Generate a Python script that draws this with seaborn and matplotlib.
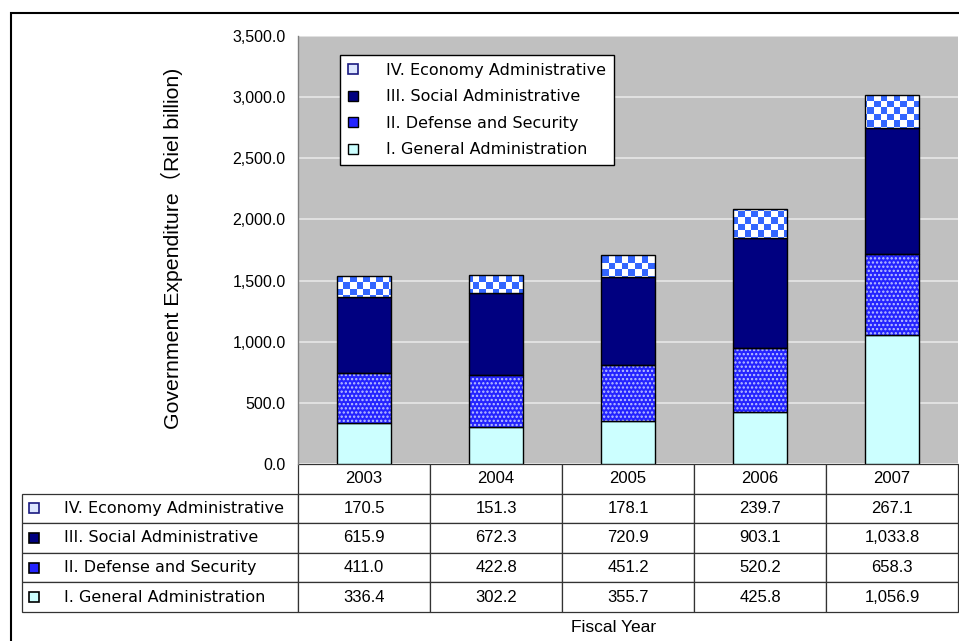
import numpy as np
import pandas as pd
import matplotlib
matplotlib.use("Agg")
import matplotlib.pyplot as plt
import seaborn as sns
from matplotlib.patches import Rectangle, Patch
from matplotlib.colors import ListedColormap
from matplotlib.ticker import FuncFormatter

# Government expenditure by function, Riel billion
years = ["2003", "2004", "2005", "2006", "2007"]
general = [336.4, 302.2, 355.7, 425.8, 1056.9]
defense = [411.0, 422.8, 451.2, 520.2, 658.3]
social = [615.9, 672.3, 720.9, 903.1, 1033.8]
economy = [170.5, 151.3, 178.1, 239.7, 267.1]

series_labels = [
    "I. General Administration",
    "II. Defense and Security",
    "III. Social Administrative",
    "IV. Economy Administrative",
]
y_ticks = [0, 500, 1000, 1500, 2000, 2500, 3000, 3500]

C_GENERAL = "#CCFFFF"
C_DEFENSE = "#2424FF"
C_SOCIAL = "#000080"
C_ECON = "#3366FF"
C_ECON_KEY = "#DCE6FF"

LABEL_FONT = ["DejaVu Sans"]

sns.set_theme(style="white")
plt.rcParams["font.family"] = ["Liberation Sans", "Noto Sans CJK JP", "DejaVu Sans"]
plt.rcParams["text.color"] = "black"
plt.rcParams["axes.labelcolor"] = "black"
plt.rcParams["hatch.linewidth"] = 1.1

W, H = 959, 641
fig = plt.figure(figsize=(W / 100, H / 100), dpi=100)
fig.patch.set_facecolor("white")

ax_l, ax_r, ax_t, ax_b = 298, 958, 36, 464
ax_w = ax_r - ax_l
ax = fig.add_axes([ax_l / W, 1 - ax_b / H, ax_w / W, (ax_b - ax_t) / H])
ax.set_facecolor("#C0C0C0")

df = pd.DataFrame({"year": years, "general": general, "defense": defense,
                   "social": social, "economy": economy})

bar_w = 0.41
bottom = np.zeros(len(years))

# I. General Administration
sns.barplot(data=df, x="year", y="general", order=years, bottom=bottom,
            width=bar_w, color=C_GENERAL, saturation=1, errorbar=None,
            edgecolor="black", linewidth=1, ax=ax, zorder=2)
bottom = bottom + df["general"].to_numpy()

# II. Defense and Security: dotted fill
sns.barplot(data=df, x="year", y="defense", order=years, bottom=bottom,
            width=bar_w, color=C_DEFENSE, saturation=1, errorbar=None,
            edgecolor="#BCC4FF", linewidth=0, hatch="....", ax=ax, zorder=2)
for p in ax.containers[-1]:
    ax.add_patch(Rectangle(p.get_xy(), p.get_width(), p.get_height(),
                           fill=False, edgecolor="black", lw=1, zorder=3))
bottom = bottom + df["defense"].to_numpy()

# III. Social Administrative
sns.barplot(data=df, x="year", y="social", order=years, bottom=bottom,
            width=bar_w, color=C_SOCIAL, saturation=1, errorbar=None,
            edgecolor="black", linewidth=1, ax=ax, zorder=2)
bottom = bottom + df["social"].to_numpy()

# IV. Economy Administrative: checkerboard fill
sns.barplot(data=df, x="year", y="economy", order=years, bottom=bottom,
            width=bar_w, color=C_ECON, saturation=1, errorbar=None,
            edgecolor="black", linewidth=0, ax=ax, zorder=2)
econ_bars = list(ax.containers[-1])

nx, ny = 102, 66
checker = (np.add.outer(np.arange(ny), np.arange(nx)) % 2).astype(float)
cmap = ListedColormap(["white", C_ECON])
for p in econ_bars:
    im = ax.imshow(checker, cmap=cmap, interpolation="nearest",
                   extent=(0, 1, 0, 1), transform=ax.transAxes,
                   aspect="auto", zorder=2.5)
    im.set_clip_path(p)
    ax.add_patch(Rectangle(p.get_xy(), p.get_width(), p.get_height(),
                           fill=False, edgecolor="black", lw=1, zorder=3))

ax.set_xlim(-0.5, len(years) - 0.5)
ax.set_ylim(0, 3500)
ax.set_aspect("auto")

# axes styling
ax.set_yticks(y_ticks)
ax.yaxis.set_major_formatter(FuncFormatter(lambda v, _: f"{v:,.1f}"))
ax.tick_params(axis="y", length=0, pad=9, labelsize=11.5, colors="black")
ax.tick_params(axis="x", length=0, labelbottom=False)
ax.set_xlabel("")
ax.set_axisbelow(True)
ax.yaxis.grid(True, color="#E4E4E4", lw=1.3)
ax.xaxis.grid(False)
for s in ["top", "right", "bottom"]:
    ax.spines[s].set_visible(False)
ax.spines["left"].set_color("#808080")
ax.spines["left"].set_linewidth(1)

ax.set_ylabel("Government Expenditure（Riel billion)", fontsize=15.3, color="black")
ax.yaxis.set_label_coords((183 - ax_l) / ax_w, 0.505)

# legend
handles = [
    Patch(facecolor=C_ECON_KEY, edgecolor="#1A1A80", lw=1.2),
    Patch(facecolor=C_SOCIAL, edgecolor="black", lw=1),
    Patch(facecolor=C_DEFENSE, edgecolor="black", lw=1),
    Patch(facecolor=C_GENERAL, edgecolor="black", lw=1),
]
leg = ax.legend(handles, series_labels[::-1], loc="upper left",
                bbox_to_anchor=((340 - ax_l) / ax_w, (ax_b - 55) / (ax_b - ax_t)),
                borderaxespad=0, frameon=True, fancybox=False, framealpha=1,
                edgecolor="black", facecolor="white", labelcolor="black",
                prop={"family": LABEL_FONT, "size": 11.5},
                handlelength=0.6, handleheight=0.6, handletextpad=1.75,
                labelspacing=0.72, borderpad=0.5)
leg.get_frame().set_linewidth(1.0)
leg.set_zorder(5)

# data table under the bars; widths in axes units so the year columns line up with the bars
rows = [economy, social, defense, general]
cell_text = [[f"{v:,.1f}" for v in r] for r in rows]
tbl_bottom = 612
label_w = 276
tbl = ax.table(cellText=cell_text, rowLabels=series_labels[::-1], colLabels=years,
               colWidths=[1 / len(years)] * len(years),
               cellLoc="center", rowLoc="left", colLoc="center",
               bbox=[0, (ax_b - tbl_bottom) / (ax_b - ax_t),
                     1, (tbl_bottom - ax_b) / (ax_b - ax_t)])
tbl._autoColumns = []
tbl.auto_set_font_size(False)
tbl.set_fontsize(12)
for (r, c), cell in tbl.get_celld().items():
    cell.set_edgecolor("#333333")
    cell.set_linewidth(0.9)
    cell.set_facecolor("white")
    cell.get_text().set_color("black")
    if c == -1:
        cell.set_width(label_w / ax_w)
        cell.PAD = 0.152
        cell.get_text().set_fontfamily(LABEL_FONT)
        cell.get_text().set_fontsize(11.5)

# legend keys inside the table's label column
row_h = (tbl_bottom - ax_b) / 5
keys = [(C_ECON_KEY, "#1A1A80"), (C_SOCIAL, "black"), (C_DEFENSE, "black"), (C_GENERAL, "black")]
for i, (fc, ec) in enumerate(keys):
    cy = ax_b + row_h * (i + 1.5)
    fig.add_artist(Rectangle((28.5 / W, 1 - (cy + 5) / H), 10 / W, 10 / H,
                             facecolor=fc, edgecolor=ec, lw=1.2,
                             transform=fig.transFigure))

fig.text(614 / W, 1 - 627 / H, "Fiscal Year", ha="center", va="center",
         fontsize=12.5, color="black")

# outer chart frame
frame_top = 1 - 13 / H
fig.add_artist(Rectangle((11 / W, -0.2), 1.2, frame_top + 0.2, fill=False,
                         edgecolor="black", lw=1.5, transform=fig.transFigure,
                         clip_on=False))

fig.savefig("out.png", dpi=100)
